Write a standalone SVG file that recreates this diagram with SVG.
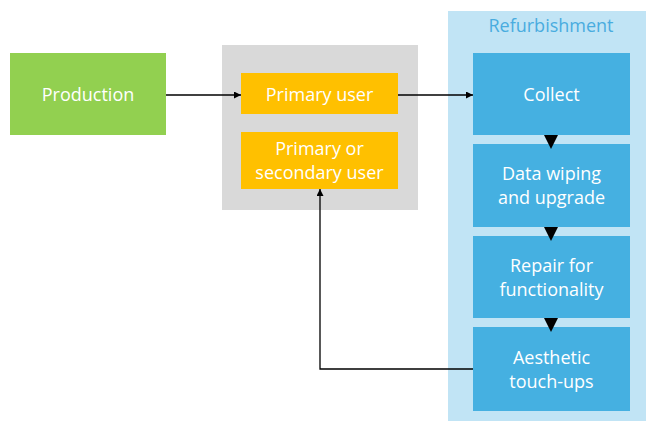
<svg xmlns="http://www.w3.org/2000/svg" width="646" height="423" viewBox="0 0 646 423">
<defs>
<style>
text{font-family:"Open Sans","Liberation Sans",sans-serif;font-size:18px;fill:#fff;text-anchor:middle}
.ln{fill:none;stroke:#000;stroke-width:1.3}
.tri{fill:#000}
</style>
<marker id="ah" viewBox="0 0 10 10" refX="10" refY="5" markerWidth="7" markerHeight="7" markerUnits="userSpaceOnUse" orient="auto"><path d="M0,0 L10,5 L0,10 z" fill="#000"/></marker>
</defs>
<rect width="646" height="423" fill="#fff"/>
<g id="users-group"><rect x="222" y="45" width="196" height="165" fill="#d9d9d9"/></g>
<g id="refurbishment-group"><rect x="448" y="11" width="198" height="410" fill="#c1e4f5"/>
<text x="551" y="32" style="fill:#49acdf">Refurbishment</text></g>
<g id="production"><rect x="10" y="53" width="156" height="82" fill="#92d050"/><text x="88" y="101">Production</text></g>
<g id="primary-user"><rect x="241" y="73" width="157" height="41" fill="#ffc000"/><text x="319.5" y="101">Primary user</text></g>
<g id="secondary-user"><rect x="241" y="132" width="157" height="57" fill="#ffc000"/><text x="319.5" y="155">Primary or</text><text x="319.5" y="179">secondary user</text></g>
<g id="collect"><rect x="473" y="53" width="157" height="82" fill="#45b0e1"/><text x="551.5" y="101">Collect</text></g>
<g id="data-wiping"><rect x="473" y="144" width="157" height="83" fill="#45b0e1"/><text x="551.5" y="180">Data wiping</text><text x="551.5" y="204">and upgrade</text></g>
<g id="repair"><rect x="473" y="236" width="157" height="82" fill="#45b0e1"/><text x="551.5" y="272">Repair for</text><text x="551.5" y="296">functionality</text></g>
<g id="aesthetic"><rect x="473" y="327" width="157" height="84" fill="#45b0e1"/><text x="551.5" y="364">Aesthetic</text><text x="551.5" y="388">touch-ups</text></g>
<g id="connectors">
<path class="ln" d="M166,95 H241" marker-end="url(#ah)"/>
<path class="ln" d="M398,95 H473" marker-end="url(#ah)"/>
<path class="ln" d="M473,369 H320 V189" marker-end="url(#ah)"/>
<path class="tri" d="M544,135 H558 L551,149 z"/>
<path class="tri" d="M544,227 H558 L551,241 z"/>
<path class="tri" d="M544,318 H558 L551,332 z"/>
</g>
</svg>
